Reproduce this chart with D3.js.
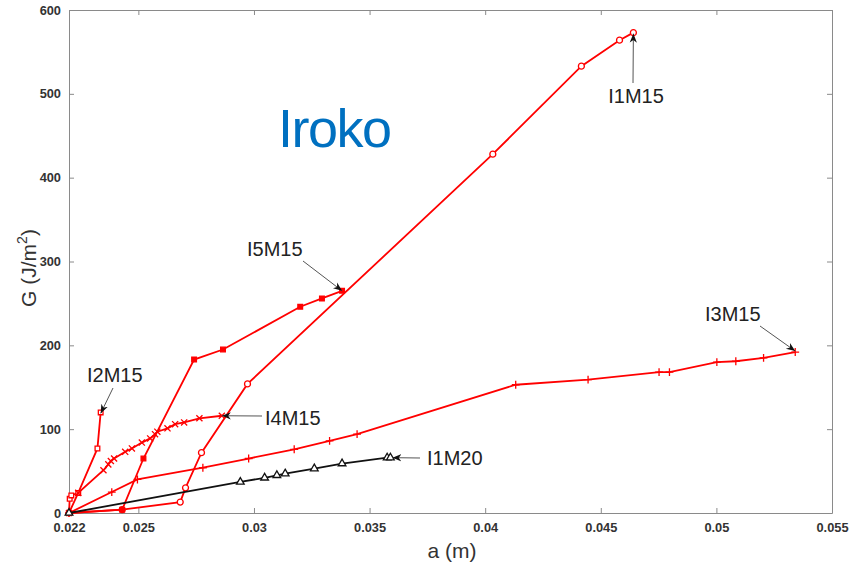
<html>
<head>
<script src="https://d3js.org/d3.v7.min.js"></script>
<style>
  body { margin: 0; background: #fff; }
  text { font-family: "Liberation Sans", Arial, sans-serif; }
  .tick text { font-weight: 700; font-size: 12.8px; fill: #333; }
</style>
</head>
<body>
<div id="chart"></div>
<script>
// crack length a (m) and energy release rate G (J/m2)
var i1m15A = [0.022, 0.0243, 0.02681, 0.02704, 0.02773, 0.02972, 0.04033, 0.04416, 0.04581, 0.04641];
var i1m15G = [0, 4, 13, 30, 72, 154, 428, 533, 564, 573];

var i5m15A = [0.022, 0.0243, 0.02522, 0.02741, 0.02866, 0.0320, 0.03294, 0.03381];
var i5m15G = [0, 4, 65, 183, 195, 246, 256, 265];

var i2m15A = [0.022, 0.02203, 0.0221, 0.0224, 0.02323, 0.02337];
var i2m15G = [0, 17, 21, 24, 77, 120];

var i4m15A = [0.022, 0.0224, 0.02349, 0.0237, 0.02381, 0.02395, 0.02443, 0.02472, 0.02515, 0.02551,
              0.02572, 0.02582, 0.02626, 0.02659, 0.02698, 0.02764, 0.02861];
var i4m15G = [0, 24, 51, 58, 62, 65, 73, 77, 84, 89, 94, 97, 101, 106, 108, 113, 116];

var i3m15A = [0.022, 0.02385, 0.02496, 0.02779, 0.02977, 0.03174, 0.03327, 0.03446, 0.04132, 0.04445,
              0.04752, 0.04797, 0.05002, 0.05084, 0.05204, 0.05341];
var i3m15G = [0, 25, 40, 54, 65, 76, 86, 94, 153, 159, 168, 168, 180, 181, 185, 192];

var i1m20A = [0.022, 0.02941, 0.03046, 0.03099, 0.03135, 0.03261, 0.03381, 0.03576, 0.0359];
var i1m20G = [0, 37, 42, 45, 47, 53, 59, 66, 66];

var xTicks = [0.022, 0.025, 0.03, 0.035, 0.04, 0.045, 0.05, 0.055];
var yTicks = [0, 100, 200, 300, 400, 500, 600];
var seriesNames = ["I1M15", "I5M15", "I2M15", "I4M15", "I3M15", "I1M20"];

var w = 850, h = 564;
var m = {top: 10, right: 18, bottom: 51, left: 69};

var x = d3.scaleLinear().domain([0.022, 0.055]).range([m.left, w - m.right]);
var y = d3.scaleLinear().domain([0, 600]).range([h - m.bottom, m.top]);

var svg = d3.select("#chart").append("svg").attr("width", w).attr("height", h);

// arrow head
svg.append("defs").append("marker")
  .attr("id", "head").attr("viewBox", "0 0 10 10").attr("refX", 10).attr("refY", 5)
  .attr("markerWidth", 9).attr("markerHeight", 9).attr("markerUnits", "userSpaceOnUse")
  .attr("orient", "auto")
  .append("path").attr("d", "M0,1 L10,5 L0,9 L3,5 Z").attr("fill", "#111");

// axes, MATLAB-like box with inward ticks
var gx = svg.append("g").attr("transform", "translate(0," + (h - m.bottom) + ")")
  .call(d3.axisBottom(x).tickValues(xTicks).tickFormat(d3.format("")).tickSizeInner(-5).tickSizeOuter(0).tickPadding(10));
var gy = svg.append("g").attr("transform", "translate(" + m.left + ",0)")
  .call(d3.axisLeft(y).tickValues(yTicks).tickSizeInner(-5).tickSizeOuter(0).tickPadding(8));
var gt = svg.append("g").attr("transform", "translate(0," + m.top + ")")
  .call(d3.axisTop(x).tickValues(xTicks).tickFormat("").tickSizeInner(-5).tickSizeOuter(0));
var gr = svg.append("g").attr("transform", "translate(" + (w - m.right) + ",0)")
  .call(d3.axisRight(y).tickValues(yTicks).tickFormat("").tickSizeInner(-5).tickSizeOuter(0));
[gx, gy, gt, gr].forEach(function(g) {
  g.select(".domain").attr("stroke", "#8a8a8a");
  g.selectAll(".tick line").attr("stroke", "#8a8a8a");
});

svg.append("text").attr("x", 452).attr("y", 558)
  .attr("text-anchor", "middle").attr("font-size", 21).attr("fill", "#333").text("a (m)");
var yl = svg.append("text").attr("transform", "translate(36,268) rotate(-90)")
  .attr("text-anchor", "middle").attr("font-size", 21).attr("fill", "#333");
yl.append("tspan").text("G (J/m");
yl.append("tspan").attr("dy", -9).attr("font-size", 14).text("2");
yl.append("tspan").attr("dy", 9).text(")");

// series
var series = [
  {name: seriesNames[0], a: i1m15A, g: i1m15G, color: "#ff0000", sym: d3.symbolCircle, size: 28, fill: false},
  {name: seriesNames[1], a: i5m15A, g: i5m15G, color: "#ff0000", sym: d3.symbolSquare, size: 22, fill: true},
  {name: seriesNames[2], a: i2m15A, g: i2m15G, color: "#ff0000", sym: d3.symbolSquare, size: 22, fill: false},
  {name: seriesNames[3], a: i4m15A, g: i4m15G, color: "#ff0000", sym: d3.symbolTimes, size: 26, fill: false},
  {name: seriesNames[4], a: i3m15A, g: i3m15G, color: "#ff0000", sym: d3.symbolPlus, size: 22, fill: false},
  {name: seriesNames[5], a: i1m20A, g: i1m20G, color: "#111111", sym: d3.symbolTriangle2, size: 42, fill: false}
];

var line = d3.line().x(function(d) { return x(d[0]); }).y(function(d) { return y(d[1]); });

series.forEach(function(s) {
  var pts = s.a.map(function(a, i) { return [a, s.g[i]]; });
  svg.append("path").datum(pts).attr("d", line)
    .attr("fill", "none").attr("stroke", s.color).attr("stroke-width", 1.8);
  svg.selectAll(null).data(pts).enter().append("path")
    .attr("transform", function(d) { return "translate(" + x(d[0]) + "," + y(d[1]) + ")"; })
    .attr("d", d3.symbol().type(s.sym).size(s.size))
    .attr("fill", s.fill ? s.color : "#fff")
    .attr("stroke", s.color).attr("stroke-width", 1.3);
});

// labels with arrows pointing at each curve's last point (offsets in px)
var notes = [
  {i: 0, tx: 636, ty: 103, anchor: "middle", sx: 633, sy: 83, dx: 0, dy: 1},
  {i: 1, tx: 247, ty: 256, anchor: "start", sx: 303, sy: 261, dx: 0, dy: 0},
  {i: 2, tx: 87, ty: 382, anchor: "start", sx: 113, sy: 388, dx: 0, dy: 1},
  {i: 3, tx: 265, ty: 425, anchor: "start", sx: 262, sy: 416, dx: 0, dy: 0},
  {i: 4, tx: 705, ty: 321, anchor: "start", sx: 760, sy: 326, dx: 0, dy: -1},
  {i: 5, tx: 427, ty: 465, anchor: "start", sx: 420, sy: 458, dx: 2, dy: 0}
];
notes.forEach(function(n) {
  var s = series[n.i], k = s.a.length - 1;
  svg.append("line").attr("x1", n.sx).attr("y1", n.sy)
    .attr("x2", x(s.a[k]) + n.dx).attr("y2", y(s.g[k]) + n.dy)
    .attr("stroke", "#555").attr("stroke-width", 1).attr("marker-end", "url(#head)");
  svg.append("text").attr("x", n.tx).attr("y", n.ty).attr("text-anchor", n.anchor)
    .attr("font-size", 20).attr("fill", "#222").text(s.name);
});

svg.append("text").attr("x", 278).attr("y", 147).attr("font-size", 54)
  .attr("letter-spacing", -1.5).attr("fill", "#0070c0").text("Iroko");
</script>
</body>
</html>
